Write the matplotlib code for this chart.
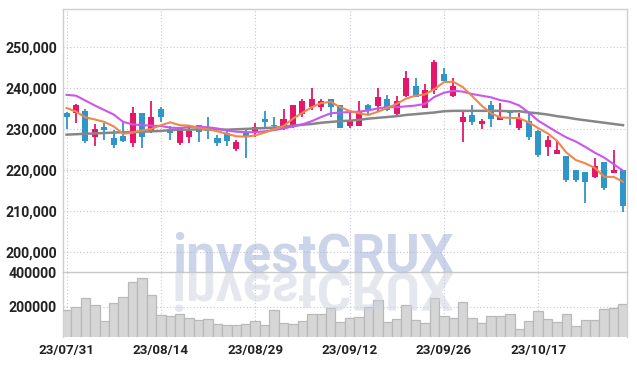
import matplotlib
matplotlib.use('Agg')
import matplotlib.pyplot as plt
from matplotlib.textpath import TextPath
from matplotlib.patches import PathPatch
from matplotlib.font_manager import FontProperties
from matplotlib.transforms import Affine2D
from matplotlib.ticker import FuncFormatter

dates = ['23/07/31', '23/08/01', '23/08/02', '23/08/03', '23/08/04', '23/08/07', '23/08/08', '23/08/09',
         '23/08/10', '23/08/11', '23/08/14', '23/08/16', '23/08/17', '23/08/18', '23/08/21', '23/08/22',
         '23/08/23', '23/08/24', '23/08/25', '23/08/28', '23/08/29', '23/08/30', '23/08/31', '23/09/01',
         '23/09/04', '23/09/05', '23/09/06', '23/09/07', '23/09/08', '23/09/11', '23/09/12', '23/09/13',
         '23/09/14', '23/09/15', '23/09/18', '23/09/19', '23/09/20', '23/09/21', '23/09/22', '23/09/25',
         '23/09/26', '23/09/27', '23/10/04', '23/10/05', '23/10/06', '23/10/10', '23/10/11', '23/10/12',
         '23/10/13', '23/10/16', '23/10/17', '23/10/18', '23/10/19', '23/10/20', '23/10/23', '23/10/24',
         '23/10/25', '23/10/26', '23/10/27', '23/10/30']
tick_idx = [0, 10, 20, 30, 40, 50]

opens = [234000, 233900, 234500, 228200, 230600, 227900, 228400, 226700, 233900, 229400,
         235000, 229800, 226700, 228200, 231000, 230500, 227800, 229000, 225300, 229200,
         229300, 232600, 231000, 230100, 230500, 233800, 235400, 235400, 237500, 235900,
         230900, 230900, 235900, 235800, 237400, 233800, 238200, 240600, 235200, 239500,
         243400, 238200, 231900, 233500, 231300, 235900, 232300, 234600, 230400, 232100,
         229600, 225800, 223900, 223500, 220100, 219600, 218400, 222000, 219400, 220100]
closes = [232900, 235900, 227200, 230000, 229800, 226200, 227200, 233900, 228200, 232900,
          232900, 229000, 230500, 229700, 229400, 229700, 226700, 227100, 226900, 228200,
          230600, 231900, 230700, 232600, 235900, 236900, 237400, 236900, 235400, 230400,
          232000, 234400, 234800, 237900, 234800, 236900, 242500, 238000, 239600, 246400,
          241800, 240600, 232900, 231800, 232100, 232400, 233000, 233900, 232600, 228200,
          223700, 227400, 225000, 217600, 217600, 217200, 221000, 215800, 220100, 211300]
highs = [234200, 236200, 234900, 231300, 231500, 229800, 231900, 235400, 234000, 236900,
         235400, 230800, 230600, 230600, 231000, 232900, 228600, 229600, 227400, 229800,
         231500, 234400, 232900, 234900, 236000, 237500, 240000, 237400, 237500, 235900,
         233900, 236800, 236200, 240000, 238300, 238200, 244300, 242400, 241000, 246900,
         245000, 242400, 234400, 235900, 232400, 237000, 236300, 234800, 233900, 233900,
         229800, 228400, 227400, 223500, 220100, 219600, 222900, 222000, 225000, 220100]
lows = [230000, 231500, 226700, 225900, 227400, 225400, 227000, 225800, 225400, 229000,
        231900, 227400, 226200, 226600, 227000, 227600, 225900, 225900, 224800, 222900,
        228200, 230600, 229800, 229900, 230300, 233100, 234700, 234500, 233100, 230400,
        230200, 230900, 233600, 234100, 234400, 233400, 237800, 237900, 235100, 238600,
        241700, 237800, 226800, 231000, 230000, 230600, 232300, 231000, 229900, 227400,
        223300, 223500, 223900, 217200, 217200, 212000, 218000, 215200, 219300, 209900]

ma5 = [235200, 234300, 232900, 232400, 231800, 230700, 228900, 229200, 229700, 230100,
       231000, 231700, 231000, 230900, 230300, 230000, 229500, 228900, 228300, 228200,
       228500, 229200, 230000, 230800, 232600, 234000, 235400, 236400, 236700, 235400,
       234500, 233900, 233500, 234300, 235200, 236200, 237500, 238200, 238500, 239800,
       241500, 241600, 240300, 238100, 235800, 233900, 232900, 232800, 232700, 231700,
       230300, 229000, 227200, 224300, 222500, 221700, 220600, 218400, 218400, 217200]
ma10 = [238400, 238200, 237000, 235800, 234700, 233600, 231800, 231200, 231000, 230900,
        230800, 230400, 230300, 230600, 230600, 230500, 230200, 229700, 229400, 229300,
        229300, 229500, 229800, 230200, 230700, 231200, 232000, 233000, 233900, 234100,
        234200, 234300, 234600, 235100, 235400, 235400, 235600, 235800, 236200, 237900,
        238900, 239400, 239200, 238600, 238200, 237800, 237100, 236700, 235800, 234100,
        232100, 230700, 229300, 228000, 227000, 225700, 224300, 223100, 221500, 219900]
ma_long = [228700, 228800, 228900, 229000, 229100, 229200, 229300, 229300, 229400, 229500,
           229600, 229800, 229900, 229900, 230000, 230000, 230000, 229900, 230000, 230100,
           230200, 230300, 230400, 230600, 230900, 231100, 231300, 231600, 231800, 232000,
           232100, 232300, 232600, 232800, 233000, 233200, 233500, 233700, 233900, 234100,
           234400, 234500, 234500, 234500, 234500, 234500, 234500, 234400, 234400, 234100,
           233900, 233600, 233200, 232900, 232500, 232200, 231900, 231600, 231300, 231000]

volumes = [182700, 200000, 250100, 209800, 117600, 221300, 257600, 342400, 365400, 267400,
           153900, 148100, 157900, 134900, 123300, 129100, 100300, 96200, 96200, 100300,
           117600, 96200, 181000, 106000, 100300, 117600, 157900, 157900, 194200, 111800,
           134900, 142400, 200000, 238600, 111800, 129100, 209800, 125100, 106000, 250100,
           148100, 136600, 227100, 136600, 106000, 148100, 148100, 157900, 71500, 117600,
           175200, 129100, 111800, 157900, 88800, 123300, 123300, 186700, 194200, 215600]

watermark = 'investCRUX'

UP = '#e5176a'
DOWN = '#2f96c9'
GRID = '#c6c6da'
LABEL_FONT = ['Roboto', 'DejaVu Sans']

W, H = 637, 366
fig = plt.figure(figsize=(W / 100, H / 100), dpi=100)
ax = fig.add_axes([63 / W, 1 - 272.3 / H, 564 / W, 263 / H])
axv = fig.add_axes([63 / W, 1 - 337.3 / H, 564 / W, 65 / H], sharex=ax)

idx = list(range(len(dates)))
colors = [UP if c >= o else DOWN for o, c in zip(opens, closes)]
bottoms = [min(o, c) for o, c in zip(opens, closes)]
heights = [max(abs(c - o), 150) for o, c in zip(opens, closes)]

ax.vlines(idx, lows, highs, colors=colors, linewidth=1.3, zorder=3)
ax.bar(idx, heights, bottom=bottoms, width=0.64, color=colors, linewidth=0, zorder=4)
ax.plot(idx, ma_long, color='#868686', linewidth=1.8, zorder=5)
ax.plot(idx, ma10, color='#cc55ee', linewidth=1.5, zorder=6)
ax.plot(idx, ma5, color='#f0874a', linewidth=1.5, zorder=7)

axv.bar(idx, volumes, width=1.0, color='#d6d6d6', edgecolor='#b9b9b9', linewidth=0.9, zorder=3)

ax.set_xlim(-0.38, 59.42)
ax.set_ylim(195120, 259270)
axv.set_ylim(25000, 400000)

ax.set_yticks([200000, 210000, 220000, 230000, 240000, 250000])
ax.yaxis.set_major_formatter(FuncFormatter(lambda v, p: f'{int(v):,}'))
axv.set_yticks([200000, 400000])
axv.yaxis.set_major_formatter(FuncFormatter(lambda v, p: f'{int(v)}'))
axv.set_xticks(tick_idx)
axv.set_xticklabels([dates[i] for i in tick_idx])

for a in (ax, axv):
    a.tick_params(length=0, colors='#222222', pad=4.5)
    a.tick_params(axis='y', labelsize=10.2)
    a.tick_params(axis='x', labelsize=9.6)
    for lab in a.get_yticklabels() + a.get_xticklabels():
        lab.set_family(LABEL_FONT)
        lab.set_fontweight('bold')
    a.grid(True, linestyle=(0, (1, 2)), color=GRID, linewidth=0.8, zorder=0)
    a.set_axisbelow(True)
    a.spines['bottom'].set_visible(False)
    for s in ('left', 'right', 'top'):
        a.spines[s].set_color('#cfcfcf')
        a.spines[s].set_linewidth(1.0)
ax.tick_params(labelbottom=False)
axv.spines['top'].set_color('#c8c8c8')

# watermark: real text plus a mirrored reflection path
fp = FontProperties(family='Roboto', weight='bold')
tp = TextPath((0, 0), watermark, size=100, prop=fp)
ext = tp.get_extents()
x0, x1, ytop, ybase = 175, 458, 233, 272
k = 0.5 * ((ybase - ytop) / ext.height + (x1 - x0) / ext.width)
font_px = 100 * k
fig.text((x0 - ext.x0 * k) / W, (H - ybase) / H, watermark, fontsize=font_px * 72 / 100,
         family='Roboto', fontweight='bold', color='#9babd5', alpha=0.5, va='baseline', ha='left', zorder=10)
to_fig = Affine2D().scale(1 / W, 1 / H) + fig.transFigure
tr_ref = Affine2D().scale(k, -k).translate(x0 - ext.x0 * k, H - ybase - 1) + to_fig
fig.add_artist(PathPatch(tp, transform=tr_ref, facecolor='#cdd1e1', edgecolor='none', alpha=0.5, zorder=10))

fig.savefig('out.png', dpi=100)
